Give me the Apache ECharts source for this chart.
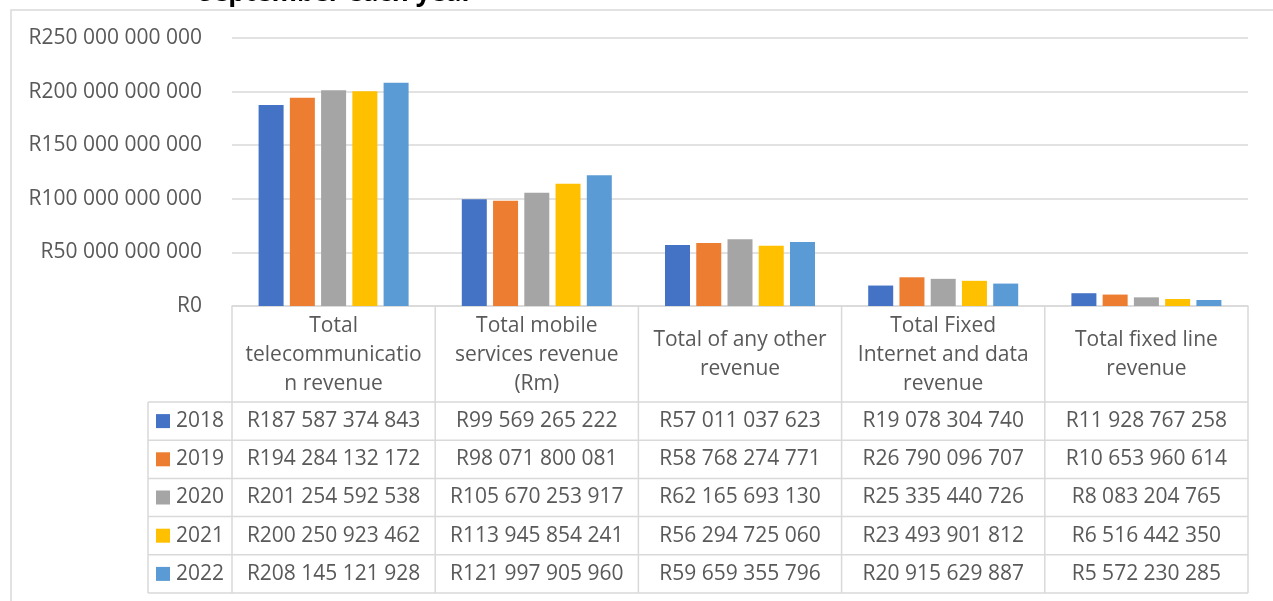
<!DOCTYPE html>
<html>
<head>
<meta charset="utf-8">
<title>Telecommunication revenue</title>
<script src="https://cdn.jsdelivr.net/npm/echarts@6/dist/echarts.min.js"></script>
<style>
  html, body { margin: 0; padding: 0; background: #fff; }
  #main { width: 1273px; height: 601px; }
</style>
</head>
<body>
<div id="main"></div>
<script>
// categories as they are wrapped in the picture
var categories = [
  'Total\ntelecommunicatio\nn revenue',
  'Total mobile\nservices revenue\n(Rm)',
  'Total of any other\nrevenue',
  'Total Fixed\nInternet and data\nrevenue',
  'Total fixed line\nrevenue'
];
var years = ['2018', '2019', '2020', '2021', '2022'];
var colors = ['#4472C4', '#ED7D31', '#A5A5A5', '#FFC000', '#5B9BD5'];

var v2018 = [187587374843, 99569265222, 57011037623, 19078304740, 11928767258];
var v2019 = [194284132172, 98071800081, 58768274771, 26790096707, 10653960614];
var v2020 = [201254592538, 105670253917, 62165693130, 25335440726, 8083204765];
var v2021 = [200250923462, 113945854241, 56294725060, 23493901812, 6516442350];
var v2022 = [208145121928, 121997905960, 59659355796, 20915629887, 5572230285];
var values = [v2018, v2019, v2020, v2021, v2022];

var yTicks = [0, 50e9, 100e9, 150e9, 200e9, 250e9];

var font = '"Open Sans", sans-serif';
var textColor = '#595959';
var lineColor = '#D9D9D9';

// grid box
var gLeft = 232, gRight = 1248, gTop = 38, gBottom = 306;
var headH = 96, rowH = 38.2, legendX = 148;

function rand(n) {
  // R1 234 567 format
  return 'R' + String(n).replace(/\B(?=(\d{3})+(?!\d))/g, ' ');
}

var chart = echarts.init(document.getElementById('main'));

var series = years.map(function (y, i) {
  return {
    name: y,
    type: 'bar',
    data: values[i],
    barWidth: 25,
    barGap: '25%',
    itemStyle: { color: colors[i] },
    emphasis: { disabled: true }
  };
});

// data table under the plot
function tableGraphic() {
  var els = [];
  var colW = (gRight - gLeft) / categories.length;
  var tableBottom = gBottom + headH + rowH * years.length;
  var line = function (x1, y1, x2, y2) {
    els.push({
      type: 'line', silent: true,
      shape: { x1: x1, y1: y1, x2: x2, y2: y2 },
      style: { stroke: lineColor, lineWidth: 1.5 }
    });
  };
  for (var c = 0; c <= categories.length; c++) {
    line(gLeft + c * colW, gBottom, gLeft + c * colW, tableBottom);
  }
  line(legendX, gBottom + headH, legendX, tableBottom);
  for (var r = 0; r <= years.length; r++) {
    line(legendX, gBottom + headH + r * rowH, gRight, gBottom + headH + r * rowH);
  }
  years.forEach(function (y, r) {
    var cy = gBottom + headH + r * rowH + rowH / 2;
    els.push({
      type: 'rect', silent: true,
      shape: { x: 156, y: cy - 7, width: 14, height: 14 },
      style: { fill: colors[r] }
    });
    els.push({
      type: 'text', silent: true, x: 224, y: cy,
      style: { text: y, fill: textColor, font: '21px ' + font, align: 'right', verticalAlign: 'middle' }
    });
    values[r].forEach(function (v, c) {
      els.push({
        type: 'text', silent: true, x: gLeft + c * colW + colW / 2, y: cy,
        style: { text: rand(v), fill: textColor, font: '21px ' + font, align: 'center', verticalAlign: 'middle' }
      });
    });
  });
  return els;
}

var option = {
  backgroundColor: '#fff',
  animation: false,
  grid: { left: gLeft, right: 1273 - gRight, top: gTop, bottom: 601 - gBottom },
  xAxis: {
    type: 'category',
    data: categories,
    axisLine: { show: true, lineStyle: { color: lineColor, width: 1.5 } },
    axisTick: { show: false },
    axisLabel: {
      interval: 0,
      color: textColor,
      fontFamily: font,
      fontSize: 21,
      lineHeight: 29,
      margin: 49,
      verticalAlign: 'middle'
    }
  },
  yAxis: {
    type: 'value',
    min: yTicks[0],
    max: yTicks[yTicks.length - 1],
    interval: yTicks[1] - yTicks[0],
    axisLine: { show: false },
    axisTick: { show: false },
    splitLine: { lineStyle: { color: lineColor, width: 1.5 } },
    axisLabel: {
      color: textColor,
      fontFamily: font,
      fontSize: 21,
      margin: 30,
      formatter: rand
    }
  },
  series: series,
  graphic: [
    {
      type: 'rect', silent: true, z: -1,
      shape: { x: 11, y: 10, width: 1400, height: 700 },
      style: { fill: null, stroke: lineColor, lineWidth: 1.5 }
    },
    {
      type: 'text', silent: true, x: 336, y: 7,
      style: { text: 'September each year', fill: '#000', font: 'bold 26px ' + font, align: 'center', verticalAlign: 'bottom' }
    }
  ].concat(tableGraphic())
};

chart.setOption(option);
</script>
</body>
</html>
